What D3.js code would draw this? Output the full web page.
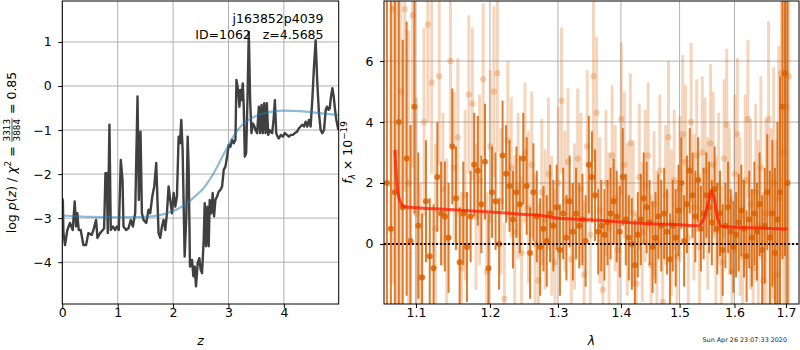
<!DOCTYPE html>
<html><head><meta charset="utf-8">
<script src="https://cdn.jsdelivr.net/npm/d3@7"></script>
<style>
body{margin:0;background:#fff}
svg text{font-family:"DejaVu Sans",sans-serif}
</style>
</head><body>
<svg id="c" width="800" height="350"></svg>
<script>
// ---------------- data ----------------
const objName = "j163852p4039";
const objId = 1062;
const zBest = "4.5685";
const chi2Num = 3313, chi2Den = 3884, chi2Val = "0.85";
const stamp = "Sun Apr 26 23:07:33 2020";

const zTicks = [0, 1, 2, 3, 4];
const logpTicks = [-4, -3, -2, -1, 0, 1];

const pzZ = [0.000,0.010,0.020,0.049,0.091,0.139,0.188,0.224,0.248,0.272,0.296,0.332,0.381,0.429,0.471,0.532,0.562,0.610,0.634,0.682,0.731,0.755,0.779,0.803,0.821,0.851,0.875,0.912,0.954,0.984,1.020,1.056,1.087,1.105,1.153,1.195,1.237,1.274,1.316,1.358,1.382,1.412,1.437,1.467,1.515,1.557,1.587,1.624,1.660,1.696,1.738,1.768,1.799,1.829,1.859,1.889,1.919,1.949,1.980,2.010,2.040,2.070,2.100,2.124,2.148,2.172,2.209,2.239,2.263,2.281,2.305,2.342,2.366,2.390,2.414,2.444,2.474,2.498,2.523,2.553,2.571,2.595,2.619,2.643,2.661,2.691,2.715,2.740,2.764,2.794,2.824,2.854,2.885,2.915,2.945,2.975,3.005,3.035,3.065,3.096,3.126,3.144,3.174,3.198,3.216,3.234,3.258,3.276,3.295,3.319,3.343,3.367,3.391,3.415,3.439,3.464,3.488,3.518,3.548,3.572,3.596,3.620,3.645,3.669,3.693,3.717,3.741,3.765,3.789,3.814,3.838,3.862,3.886,3.910,3.946,3.982,4.019,4.055,4.091,4.127,4.163,4.200,4.236,4.272,4.302,4.332,4.363,4.393,4.423,4.453,4.483,4.513,4.544,4.574,4.604,4.634,4.664,4.694,4.725,4.755,4.779,4.803,4.827,4.851,4.876,4.900,4.924,4.948,4.984];
const pzLogp = [-2.55,-2.62,-3.33,-3.61,-3.27,-3.11,-3.27,-2.62,-3.19,-2.89,-3.27,-3.27,-3.61,-3.61,-3.34,-3.38,-3.27,-3.04,-3.45,-3.34,-3.27,-3.23,-1.98,-1.98,-3.34,-0.88,-3.27,-3.19,-3.27,-3.19,-3.27,-1.68,-2.13,-3.19,-3.27,-3.23,-3.04,-3.19,-2.89,-0.24,-2.59,-1.04,-2.89,-3.04,-3.11,-2.81,-2.89,-2.51,-2.28,-1.75,-3.34,-3.45,-3.19,-3.04,-3.27,-2.89,-2.28,-2.59,-2.89,-2.43,-2.74,-2.51,-1.15,-1.30,-0.77,-1.45,-3.87,-2.96,-1.15,-1.83,-4.10,-3.95,-4.32,-4.10,-4.55,-4.02,-3.91,-4.17,-4.25,-3.49,-2.66,-3.64,-2.74,-3.64,-2.59,-2.89,-2.43,-2.96,-2.59,-2.51,-2.40,-2.36,-2.28,-1.90,-1.83,-1.60,-1.34,-1.38,-1.22,-1.30,-1.22,0.14,-0.09,-0.47,-0.09,-0.32,0.06,-0.47,-1.60,-1.53,-0.32,1.23,-0.32,-1.07,-0.85,-0.90,-1.00,-1.07,-0.47,-1.07,-0.43,-1.07,-0.39,-1.07,-0.39,-1.11,-1.00,-1.04,-1.07,-0.77,-0.32,-1.07,-1.15,-1.19,-1.11,-1.15,-1.07,-1.11,-1.15,-1.11,-1.11,-1.07,-1.04,-0.96,-0.92,-0.88,-0.92,-0.81,-0.92,-0.77,-0.92,-0.32,0.44,1.04,0.06,-0.62,-1.00,-1.07,-1.00,-0.54,-0.47,-0.54,-0.51,-0.24,-0.05,-0.24,-0.54,-0.77,-1.00];

const priorZ = [0.0,0.5,1.0,1.5,1.8,1.95,2.1,2.25,2.4,2.55,2.65,2.79,2.9,3.0,3.1,3.25,3.4,3.5,3.7,4.0,4.3,4.6,4.99];
const priorLogp = [-2.94,-2.97,-2.98,-2.97,-2.92,-2.86,-2.78,-2.66,-2.50,-2.32,-2.15,-1.85,-1.58,-1.35,-1.12,-0.88,-0.74,-0.68,-0.60,-0.56,-0.57,-0.61,-0.66];

const lamTicks = [1.1, 1.2, 1.3, 1.4, 1.5, 1.6, 1.7];
const fluxTicks = [0, 2, 4, 6];

// spectrum 1 (dark)
const lamA = [1.063,1.068,1.073,1.078,1.083,1.088,1.093,1.098,1.103,1.108,1.113,1.118,1.123,1.128,1.133,1.138,1.143,1.148,1.153,1.158,1.163,1.168,1.173,1.178,1.183,1.188,1.193,1.198,1.203,1.208,1.213,1.218,1.223,1.228,1.233,1.238,1.243,1.248,1.253,1.258,1.263,1.268,1.273,1.278,1.283,1.288,1.293,1.298,1.303,1.308,1.313,1.318,1.323,1.328,1.333,1.338,1.343,1.348,1.353,1.358,1.363,1.368,1.373,1.378,1.383,1.388,1.393,1.398,1.403,1.408,1.413,1.418,1.423,1.428,1.433,1.438,1.443,1.448,1.453,1.458,1.463,1.468,1.473,1.478,1.483,1.488,1.493,1.498,1.503,1.508,1.513,1.518,1.523,1.528,1.533,1.538,1.543,1.548,1.553,1.558,1.563,1.568,1.573,1.578,1.583,1.588,1.593,1.598,1.603,1.608,1.613,1.618,1.623,1.628,1.633,1.638,1.643,1.648,1.653,1.658,1.663,1.668,1.673,1.678,1.683,1.688,1.693,1.698,1.703];
const fluxA = [2.0,0.5,1.7,4.0,1.2,2.8,0.1,4.5,0.6,-1.1,1.4,-0.4,-0.8,2.2,1.0,0.9,0.2,3.2,1.5,-0.6,1.0,-0.1,0.9,2.6,2.4,1.3,2.7,-0.8,1.7,1.4,0.0,2.9,2.3,1.9,0.8,1.7,1.3,2.8,1.9,-0.3,1.7,0.9,-0.1,0.5,0.1,1.0,0.6,1.2,-0.2,1.0,0.2,1.4,0.4,1.0,0.6,0.8,0.1,2.6,2.2,1.6,0.4,0.6,0.3,0.7,1.0,1.4,0.9,0.4,2.2,0.8,0.2,0.0,-0.7,0.3,0.8,1.5,1.2,0.7,-0.1,0.2,0.9,0.6,1.0,0.4,-0.5,0.6,0.2,1.1,2.0,0.1,1.3,2.4,1.6,0.9,2.1,0.5,1.0,1.6,1.2,0.7,1.8,0.5,1.0,-0.2,0.6,1.2,0.4,-0.1,0.3,0.7,1.1,0.5,-0.4,0.8,0.2,1.0,0.4,1.3,-0.2,0.6,1.7,0.2,1.0,-0.3,0.8,1.7,4.5,5.6,2.0];
const errA = [10,9,8,7,5.5,4.5,3.8,3.5,2.4,2.1,2.0,1.9,2.1,1.8,1.7,1.8,1.8,1.9,1.7,1.8,1.7,1.8,1.5,1.7,1.8,1.6,1.9,1.8,1.5,1.6,1.5,1.8,1.6,1.5,1.6,1.5,1.6,1.5,1.6,1.5,1.6,1.5,1.6,1.4,1.5,1.6,1.5,1.4,1.5,1.5,1.4,1.5,1.6,1.5,1.4,1.5,1.5,1.6,1.5,1.5,1.4,1.5,1.5,1.4,1.5,1.4,1.5,1.5,1.6,1.5,1.4,1.5,1.5,1.4,1.5,1.5,1.5,1.4,1.5,1.5,1.4,1.5,1.5,1.4,1.5,1.5,1.6,1.5,1.5,1.5,1.6,1.4,1.4,1.5,1.4,1.4,1.5,1.4,1.5,1.4,1.4,1.5,1.4,1.5,1.4,1.5,1.4,1.5,1.4,1.6,1.5,1.6,1.5,1.6,1.6,1.7,1.6,1.7,1.8,1.9,1.9,2.2,2.4,2.8,3.2,3.8,5.0,6.0,9];

// spectrum 2 (light)
const lamB = [1.0705,1.0755,1.0805,1.0855,1.0905,1.0955,1.1005,1.1055,1.1105,1.1155,1.1205,1.1255,1.1305,1.1355,1.1405,1.1455,1.1505,1.1555,1.1605,1.1655,1.1705,1.1755,1.1805,1.1855,1.1905,1.1955,1.2005,1.2055,1.2105,1.2155,1.2205,1.2255,1.2305,1.2355,1.2405,1.2455,1.2505,1.2555,1.2605,1.2655,1.2705,1.2755,1.2805,1.2855,1.2905,1.2955,1.3005,1.3055,1.3105,1.3155,1.3205,1.3255,1.3305,1.3355,1.3405,1.3455,1.3505,1.3555,1.3605,1.3655,1.3705,1.3755,1.3805,1.3855,1.3905,1.3955,1.4005,1.4055,1.4105,1.4155,1.4205,1.4255,1.4305,1.4355,1.4405,1.4455,1.4505,1.4555,1.4605,1.4655,1.4705,1.4755,1.4805,1.4855,1.4905,1.4955,1.5005,1.5055,1.5105,1.5155,1.5205,1.5255,1.5305,1.5355,1.5405,1.5455,1.5505,1.5555,1.5605,1.5655,1.5705,1.5755,1.5805,1.5855,1.5905,1.5955,1.6005,1.6055,1.6105,1.6155,1.6205,1.6255,1.6305,1.6355,1.6405,1.6455,1.6505,1.6555,1.6605,1.6655,1.6705,1.6755,1.6805,1.6855,1.6905,1.6955,1.7005,1.7055];
const fluxB = [7.7,3.0,5.0,7.7,2.0,7.5,1.0,-1.1,4.0,7.2,5.3,0.5,5.5,1.8,0.2,6.0,2.5,3.5,-0.8,1.6,4.9,4.6,0.9,2.1,5.4,-0.9,3.2,5.0,5.6,1.4,-1.8,3.4,2.5,0.4,1.9,-0.3,3.0,1.2,2.6,0.0,-1.2,1.7,0.8,2.3,0.6,-0.6,2.0,4.7,1.4,2.7,-0.5,0.9,2.8,1.8,-1.0,3.2,0.3,5.5,4.3,1.1,-1.5,2.0,0.5,2.9,1.5,-0.2,4.1,2.6,0.8,3.3,1.0,-1.3,2.2,0.4,1.9,2.9,-0.7,1.3,0.1,2.4,-1.9,1.6,3.5,0.7,2.1,-0.4,1.8,3.6,2.7,0.2,4.0,1.2,2.9,-0.1,3.0,2.4,1.0,3.3,2.6,0.4,1.9,-0.6,2.8,3.9,1.4,-0.9,2.3,3.6,0.9,-0.4,2.1,4.1,1.3,-0.8,1.7,0.6,2.5,-1.2,1.0,4.1,0.3,2.0,-1.0,1.5,5.6,3.0,4.5,5.5];
const errB = [9,8,7,6,5,5,3.8,3.1,3.1,3.2,3.0,2.8,2.9,2.5,2.6,2.8,2.5,2.6,2.5,2.8,2.6,2.5,2.4,2.8,2.5,2.6,2.5,2.8,2.6,2.4,2.5,2.6,2.3,2.5,2.4,2.5,2.3,2.5,2.4,2.3,2.5,2.4,2.3,2.5,2.3,2.4,2.5,2.4,2.3,2.4,2.5,2.4,2.3,2.5,2.4,2.5,2.4,2.8,2.5,2.4,2.3,2.4,2.5,2.3,2.4,2.3,2.5,2.4,2.5,2.3,2.4,2.3,2.4,2.3,2.5,2.4,2.3,2.4,2.3,2.5,2.4,2.3,2.5,2.4,2.3,2.5,2.4,2.6,2.5,2.4,2.6,2.4,2.5,2.4,2.5,2.4,2.5,2.6,2.4,2.5,2.4,2.5,2.6,2.5,2.4,2.5,2.6,2.5,2.6,2.5,2.8,2.6,2.8,2.6,2.9,2.8,3.0,2.9,3.1,3.2,3.5,3.8,4.4,5.0,6.0,7.0,8.0,9.0];

// best-fit model
const modelLam = [1.073,1.076,1.079,1.085,1.100,1.150,1.200,1.250,1.280,1.300,1.350,1.400,1.450,1.500,1.532,1.545,1.552,1.557,1.562,1.568,1.575,1.600,1.650,1.703];
const modelFlux = [3.08,1.90,1.45,1.22,1.19,1.12,1.05,0.97,0.92,0.84,0.79,0.72,0.66,0.63,0.60,0.90,1.40,1.75,1.50,0.90,0.58,0.55,0.52,0.49];

// ---------------- drawing ----------------
const svg = d3.select('#c');
const FS = 12.5;
const gridColor = '#b0b0b0';
const orange = '#d96000';

function styleAxis(g) {
  g.select('.domain').remove();
  g.selectAll('.tick line').attr('stroke', '#000').attr('stroke-width', 1);
  g.selectAll('.tick text').attr('font-size', FS).attr('fill', '#000')
    .attr('font-family', '"DejaVu Sans",sans-serif');
}

// ===== Left panel =====
const L = {x0: 62.3, x1: 338.7, y0: 1, y1: 304};
const xz = d3.scaleLinear().domain([0, 4.99]).range([L.x0, L.x1]);
const yp = d3.scaleLinear().domain([-4.95, 1.93]).range([L.y1, L.y0]);

const gL = svg.append('g');
gL.append('defs').append('clipPath').attr('id', 'clipL')
  .append('rect').attr('x', L.x0).attr('y', L.y0).attr('width', L.x1 - L.x0).attr('height', L.y1 - L.y0);

gL.selectAll('.vg').data(zTicks).enter().append('line')
  .attr('x1', d => xz(d)).attr('x2', d => xz(d)).attr('y1', L.y0).attr('y2', L.y1)
  .attr('stroke', gridColor).attr('stroke-width', 1);
gL.selectAll('.hg').data(logpTicks).enter().append('line')
  .attr('y1', d => yp(d)).attr('y2', d => yp(d)).attr('x1', L.x0).attr('x2', L.x1)
  .attr('stroke', gridColor).attr('stroke-width', 1);

const plotL = gL.append('g').attr('clip-path', 'url(#clipL)');
const pzData = pzZ.map((z, i) => [z, pzLogp[i]]);
const priorData = priorZ.map((z, i) => [z, priorLogp[i]]);
const lineL = d3.line().x(d => xz(d[0])).y(d => yp(d[1]));
const lineSmooth = d3.line().x(d => xz(d[0])).y(d => yp(d[1])).curve(d3.curveMonotoneX);
plotL.append('path').datum(pzData).attr('d', lineL)
  .attr('fill', 'none').attr('stroke', '#404040').attr('stroke-width', 2.4).attr('stroke-linejoin', 'round');
plotL.append('path').datum(priorData).attr('d', lineSmooth)
  .attr('fill', 'none').attr('stroke', '#1f77b4').attr('stroke-opacity', 0.5).attr('stroke-width', 2.2);

gL.append('g').attr('transform', `translate(0,${L.y1})`)
  .call(d3.axisBottom(xz).tickValues(zTicks).tickSize(4).tickPadding(0.5).tickFormat(d3.format('d')))
  .call(styleAxis);
gL.append('g').attr('transform', `translate(${L.x0},0)`)
  .call(d3.axisLeft(yp).tickValues(logpTicks).tickSize(4).tickPadding(6.5).tickFormat(d3.format('d')))
  .call(styleAxis);
gL.append('rect').attr('x', L.x0).attr('y', L.y0).attr('width', L.x1 - L.x0).attr('height', L.y1 - L.y0)
  .attr('fill', 'none').attr('stroke', '#000').attr('stroke-width', 1);

// annotation
gL.append('text').attr('x', 323.5).attr('y', 23).attr('text-anchor', 'end').attr('font-size', FS)
  .text(objName);
gL.append('text').attr('x', 323.5).attr('y', 38.5).attr('text-anchor', 'end').attr('font-size', FS)
  .style('white-space', 'pre').text(`ID=${objId}   z=${zBest}`);

// x label
gL.append('text').attr('x', (L.x0 + L.x1) / 2).attr('y', 344.5).attr('text-anchor', 'middle')
  .attr('font-size', FS).attr('font-style', 'italic').text('z');

// y label (rotated with stacked fraction)
const yl = gL.append('g').attr('transform', `translate(16,${(L.y0 + L.y1) / 2}) rotate(-90)`);
const ylIn = yl.append('g');
const t1 = ylIn.append('text').attr('font-size', FS).style('white-space', 'pre');
t1.append('tspan').text('log ');
t1.append('tspan').attr('font-style', 'italic').text('p');
t1.append('tspan').text('(');
t1.append('tspan').attr('font-style', 'italic').text('z');
t1.append('tspan').text(') / ');
t1.append('tspan').attr('font-style', 'italic').text('χ');
t1.append('tspan').attr('font-size', 8.8).attr('dy', -5).text('2');
t1.append('tspan').attr('dy', 5).text(' = ');
const w1 = t1.node().getComputedTextLength();
const fracFS = 8.8;
const num = ylIn.append('text').attr('font-size', fracFS).attr('text-anchor', 'middle').text(chi2Num);
const den = ylIn.append('text').attr('font-size', fracFS).attr('text-anchor', 'middle').text(chi2Den);
const fw = Math.max(num.node().getComputedTextLength(), den.node().getComputedTextLength());
const fcx = w1 + 1 + fw / 2;
num.attr('x', fcx).attr('y', -5.6);
den.attr('x', fcx).attr('y', 4.4);
ylIn.append('line').attr('x1', w1 + 0.5).attr('x2', w1 + fw + 1.5).attr('y1', -4).attr('y2', -4)
  .attr('stroke', '#000').attr('stroke-width', 0.7);
const t2 = ylIn.append('text').attr('font-size', FS).style('white-space', 'pre')
  .attr('x', w1 + fw + 2).text(` = ${chi2Val}`);
const total = w1 + fw + 2 + t2.node().getComputedTextLength();
ylIn.attr('transform', `translate(${-total / 2},0)`);

// ===== Right panel =====
const R = {x0: 384, x1: 799, y0: 1, y1: 304};
const xl = d3.scaleLog().domain([1.0594, 1.7262]).range([R.x0, R.x1]);
const yf = d3.scaleLinear().domain([-1.97, 7.97]).range([R.y1, R.y0]);

const gR = svg.append('g');
gR.append('defs').append('clipPath').attr('id', 'clipR')
  .append('rect').attr('x', R.x0).attr('y', R.y0).attr('width', R.x1 - R.x0).attr('height', R.y1 - R.y0);

gR.selectAll('.vg').data(lamTicks).enter().append('line')
  .attr('x1', d => xl(d)).attr('x2', d => xl(d)).attr('y1', R.y0).attr('y2', R.y1)
  .attr('stroke', gridColor).attr('stroke-width', 1);
gR.selectAll('.hg').data(fluxTicks).enter().append('line')
  .attr('y1', d => yf(d)).attr('y2', d => yf(d)).attr('x1', R.x0).attr('x2', R.x1)
  .attr('stroke', gridColor).attr('stroke-width', 1);

const plotR = gR.append('g').attr('clip-path', 'url(#clipR)');

function drawSpec(lam, flux, err, op, bw, r) {
  const n = Math.min(lam.length, flux.length, err.length);
  const data = d3.range(n).map(i => ({l: lam[i], f: flux[i], e: err[i]}));
  const g = plotR.append('g');
  g.selectAll('line').data(data).enter().append('line')
    .attr('x1', d => xl(d.l)).attr('x2', d => xl(d.l))
    .attr('y1', d => yf(d.f - d.e)).attr('y2', d => yf(d.f + d.e))
    .attr('stroke', orange).attr('stroke-opacity', op).attr('stroke-width', bw);
  g.selectAll('circle').data(data).enter().append('circle')
    .attr('cx', d => xl(d.l)).attr('cy', d => yf(d.f)).attr('r', r)
    .attr('fill', orange).attr('fill-opacity', op);
}
drawSpec(lamB, fluxB, errB, 0.26, 3, 3.2);
drawSpec(lamA, fluxA, errA, 0.83, 2, 3);

const modelData = modelLam.map((l, i) => [l, modelFlux[i]]);
plotR.append('path').datum(modelData)
  .attr('d', d3.line().x(d => xl(d[0])).y(d => yf(d[1])).curve(d3.curveMonotoneX))
  .attr('fill', 'none').attr('stroke', '#ff1a00').attr('stroke-opacity', 0.75).attr('stroke-width', 3);

plotR.append('line').attr('x1', R.x0).attr('x2', R.x1).attr('y1', yf(0)).attr('y2', yf(0))
  .attr('stroke', '#111').attr('stroke-width', 2).attr('stroke-dasharray', '2,2');

gR.append('g').attr('transform', `translate(0,${R.y1})`)
  .call(d3.axisBottom(xl).tickValues(lamTicks).tickSize(4).tickPadding(0.5).tickFormat(d3.format('.1f')))
  .call(styleAxis);
gR.append('g').attr('transform', `translate(${R.x0},0)`)
  .call(d3.axisLeft(yf).tickValues(fluxTicks).tickSize(4).tickPadding(6.5).tickFormat(d3.format('d')))
  .call(styleAxis);
gR.append('rect').attr('x', R.x0).attr('y', R.y0).attr('width', R.x1 - R.x0).attr('height', R.y1 - R.y0)
  .attr('fill', 'none').attr('stroke', '#000').attr('stroke-width', 1);

gR.append('text').attr('x', (R.x0 + R.x1) / 2).attr('y', 344.5).attr('text-anchor', 'middle')
  .attr('font-size', FS).attr('font-style', 'italic').text('λ');

const yr = gR.append('text').attr('transform', `translate(352,${(R.y0 + R.y1) / 2}) rotate(-90)`)
  .attr('text-anchor', 'middle').attr('font-size', FS).style('white-space', 'pre');
yr.append('tspan').attr('font-style', 'italic').text('f');
yr.append('tspan').attr('font-style', 'italic').attr('font-size', 8.8).attr('dy', 3).text('λ');
yr.append('tspan').attr('dy', -3).text(' × 10');
yr.append('tspan').attr('font-size', 8.8).attr('dy', -5).text('−19');

svg.append('text').attr('x', 787).attr('y', 342).attr('text-anchor', 'end')
  .attr('font-size', 6.4).attr('fill', '#222').text(stamp);
</script>
</body></html>
